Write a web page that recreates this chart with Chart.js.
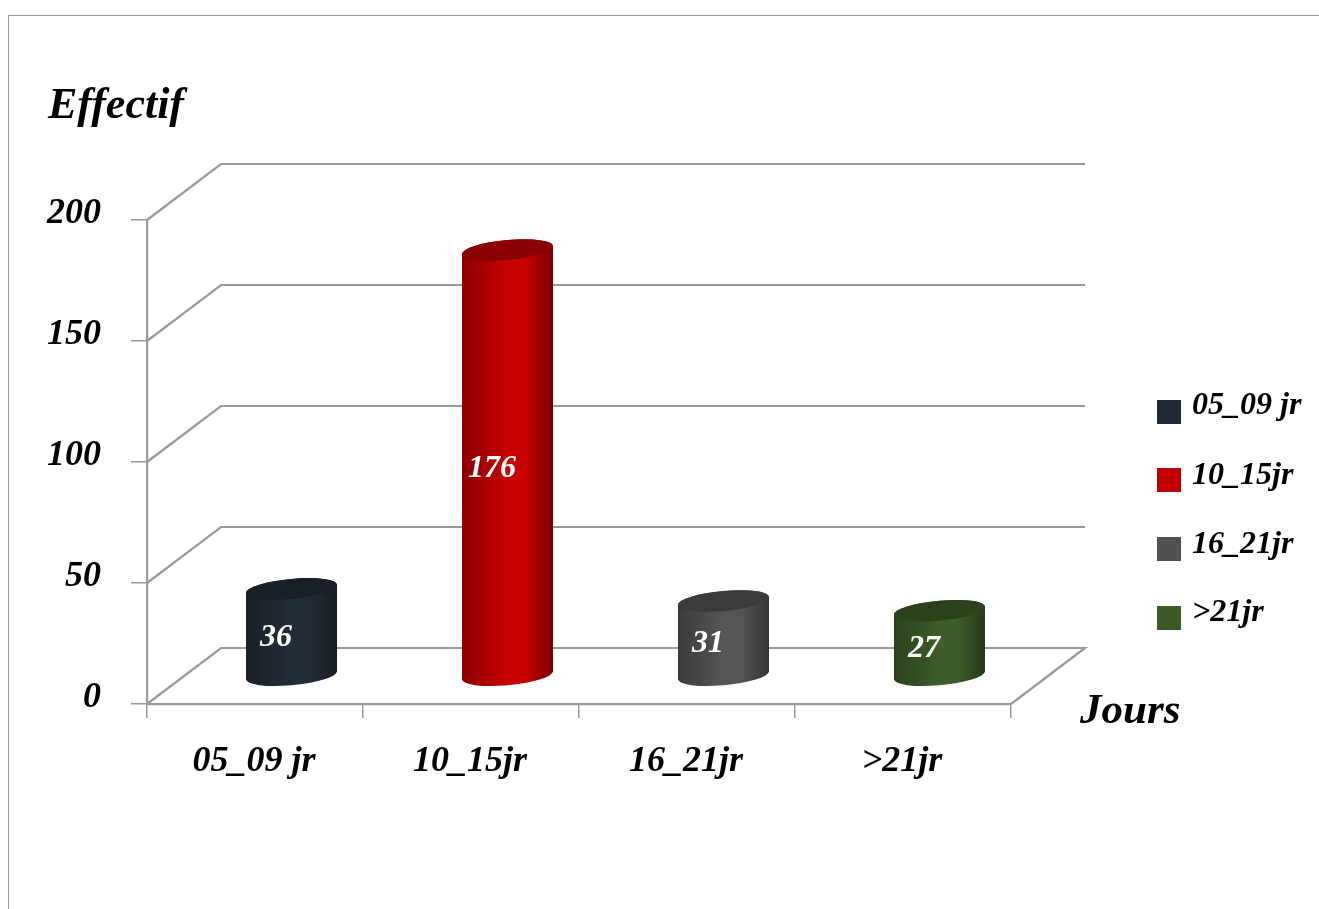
<!DOCTYPE html>
<html>
<head>
<meta charset="utf-8">
<title>Effectif par jours</title>
<script src="https://cdn.jsdelivr.net/npm/chart.js@4"></script>
<style>
    body { margin: 0; background: #fff; overflow: hidden; }
    #frame { position: absolute; left: 8px; top: 15px; right: 0; bottom: 0; border-top: 1px solid #999; border-left: 1px solid #999; }
    #myChart { position: absolute; left: 0; top: 0; }
</style>
</head>
<body>
<div id="frame"></div>
<canvas id="myChart" width="1319" height="909"></canvas>
<script>
const categories = ['05_09 jr', '10_15jr', '16_21jr', '>21jr'];
const legendLabels = ['05_09 jr', '10_15jr', '16_21jr', '>21jr'];
const effectifs = [36, 176, 31, 27];
const barColors = ['#222b35', '#c00000', '#525252', '#3b5a26'];
const yMax = 200;
const yStep = 50;
const yTitle = 'Effectif';
const xTitle = 'Jours';

const fontFamily = '"Liberation Serif", serif';
const gridColor = '#999999';
const depthX = 74;
const depthY = 56;

function shade(hex, factor) {
    const n = parseInt(hex.slice(1), 16);
    const r = Math.min(255, Math.round(((n >> 16) & 255) * factor));
    const g = Math.min(255, Math.round(((n >> 8) & 255) * factor));
    const b = Math.min(255, Math.round((n & 255) * factor));
    return `rgb(${r},${g},${b})`;
}

function font(size) {
    return `italic bold ${size}px ${fontFamily}`;
}

// back wall, side wall and floor, projected from the y scale
const wallPlugin = {
    id: 'wall',
    beforeDatasetsDraw(chart) {
        const ctx = chart.ctx;
        const y = chart.scales.y;
        const x = chart.scales.x;
        ctx.save();
        ctx.strokeStyle = gridColor;
        ctx.lineWidth = 2.2;
        y.ticks.forEach(function(tick) {
            const py = y.getPixelForValue(tick.value);
            ctx.beginPath();
            ctx.moveTo(x.left, py);
            ctx.lineTo(x.left + depthX, py - depthY);
            ctx.lineTo(x.right + depthX, py - depthY);
            if (tick.value === 0) {
                ctx.lineTo(x.right, py);
            }
            ctx.stroke();
        });
        ctx.restore();
    }
};

// half of a sheared ellipse, added to the current path
function tiltedArc(ctx, cx, cy, rx, ry, start, end) {
    ctx.save();
    ctx.translate(cx, cy);
    ctx.transform(1, -0.088, 0, 1, 0, 0);
    ctx.ellipse(0, 0, rx, ry, 0, start, end);
    ctx.restore();
}

// draws each bar of the dataset as a cylinder standing mid depth
const cylinderPlugin = {
    id: 'cylinder',
    beforeDatasetDraw(chart, args) {
        const ctx = chart.ctx;
        args.meta.data.forEach(function(bar, i) {
            const color = barColors[i];
            const cx = bar.x + 36.5;
            const top = bar.y - depthY / 2;
            const base = bar.base - depthY / 2;
            const rx = bar.width / 2;
            const ry = 10;

            const grad = ctx.createLinearGradient(cx - rx, 0, cx + rx, 0);
            grad.addColorStop(0, shade(color, 0.72));
            grad.addColorStop(0.5, shade(color, 1.04));
            grad.addColorStop(0.7, shade(color, 1.04));
            grad.addColorStop(1, shade(color, 0.62));

            ctx.save();
            ctx.beginPath();
            tiltedArc(ctx, cx, base, rx, ry, 0, Math.PI);
            tiltedArc(ctx, cx, top, rx, ry, Math.PI, 2 * Math.PI);
            ctx.closePath();
            ctx.fillStyle = grad;
            ctx.fill();

            ctx.beginPath();
            tiltedArc(ctx, cx, top, rx, ry, 0, 2 * Math.PI);
            ctx.fillStyle = shade(color, 0.72);
            ctx.fill();

            ctx.fillStyle = '#ffffff';
            ctx.font = font(32);
            ctx.textAlign = 'center';
            ctx.textBaseline = 'middle';
            ctx.fillText(String(effectifs[i]), cx - 15.5, (top + base) / 2 + 6);
            ctx.restore();
        });
        return false;
    }
};

// axis names and the legend on the right
const textPlugin = {
    id: 'texts',
    afterDraw(chart) {
        const ctx = chart.ctx;
        ctx.save();
        ctx.fillStyle = '#000000';
        ctx.textAlign = 'left';
        ctx.textBaseline = 'alphabetic';
        ctx.font = font(44);
        ctx.fillText(yTitle, 48, 118);
        ctx.font = font(43);
        ctx.fillText(xTitle, 1080, 723);

        ctx.font = font(32);
        const boxTops = [400, 468, 537, 606];
        const baselines = [414, 484, 553, 621];
        legendLabels.forEach(function(label, i) {
            ctx.fillStyle = barColors[i];
            ctx.fillRect(1157, boxTops[i], 24, 24);
            ctx.fillStyle = '#000000';
            ctx.fillText(label, 1192, baselines[i]);
        });
        ctx.restore();
    }
};

const ctx = document.getElementById('myChart').getContext('2d');
new Chart(ctx, {
    type: 'bar',
    data: {
        labels: categories,
        datasets: [{
            label: yTitle,
            data: effectifs,
            backgroundColor: barColors,
            barThickness: 91
        }]
    },
    options: {
        responsive: false,
        animation: false,
        layout: {
            padding: { left: 0, top: 220, right: 308, bottom: 0 }
        },
        plugins: {
            legend: { display: false },
            tooltip: { enabled: false }
        },
        scales: {
            x: {
                afterFit: function(scale) { scale.height = 205; },
                grid: {
                    offset: true,
                    drawOnChartArea: false,
                    color: gridColor,
                    lineWidth: 1.5,
                    tickLength: 14
                },
                border: { color: gridColor, width: 2.2 },
                ticks: {
                    color: '#000000',
                    font: { family: fontFamily, size: 36, weight: 'bold', style: 'italic' },
                    maxRotation: 0,
                    autoSkip: false,
                    padding: 22,
                    labelOffset: -1
                }
            },
            y: {
                min: 0,
                max: yMax,
                afterFit: function(scale) { scale.width = 147; },
                grid: {
                    drawOnChartArea: false,
                    color: gridColor,
                    lineWidth: 1.5,
                    tickLength: 16
                },
                border: { color: gridColor, width: 2.2 },
                ticks: {
                    color: '#000000',
                    stepSize: yStep,
                    font: { family: fontFamily, size: 36, weight: 'bold', style: 'italic' },
                    padding: 30,
                    labelOffset: -6
                }
            }
        }
    },
    plugins: [wallPlugin, cylinderPlugin, textPlugin]
});
</script>
</body>
</html>
